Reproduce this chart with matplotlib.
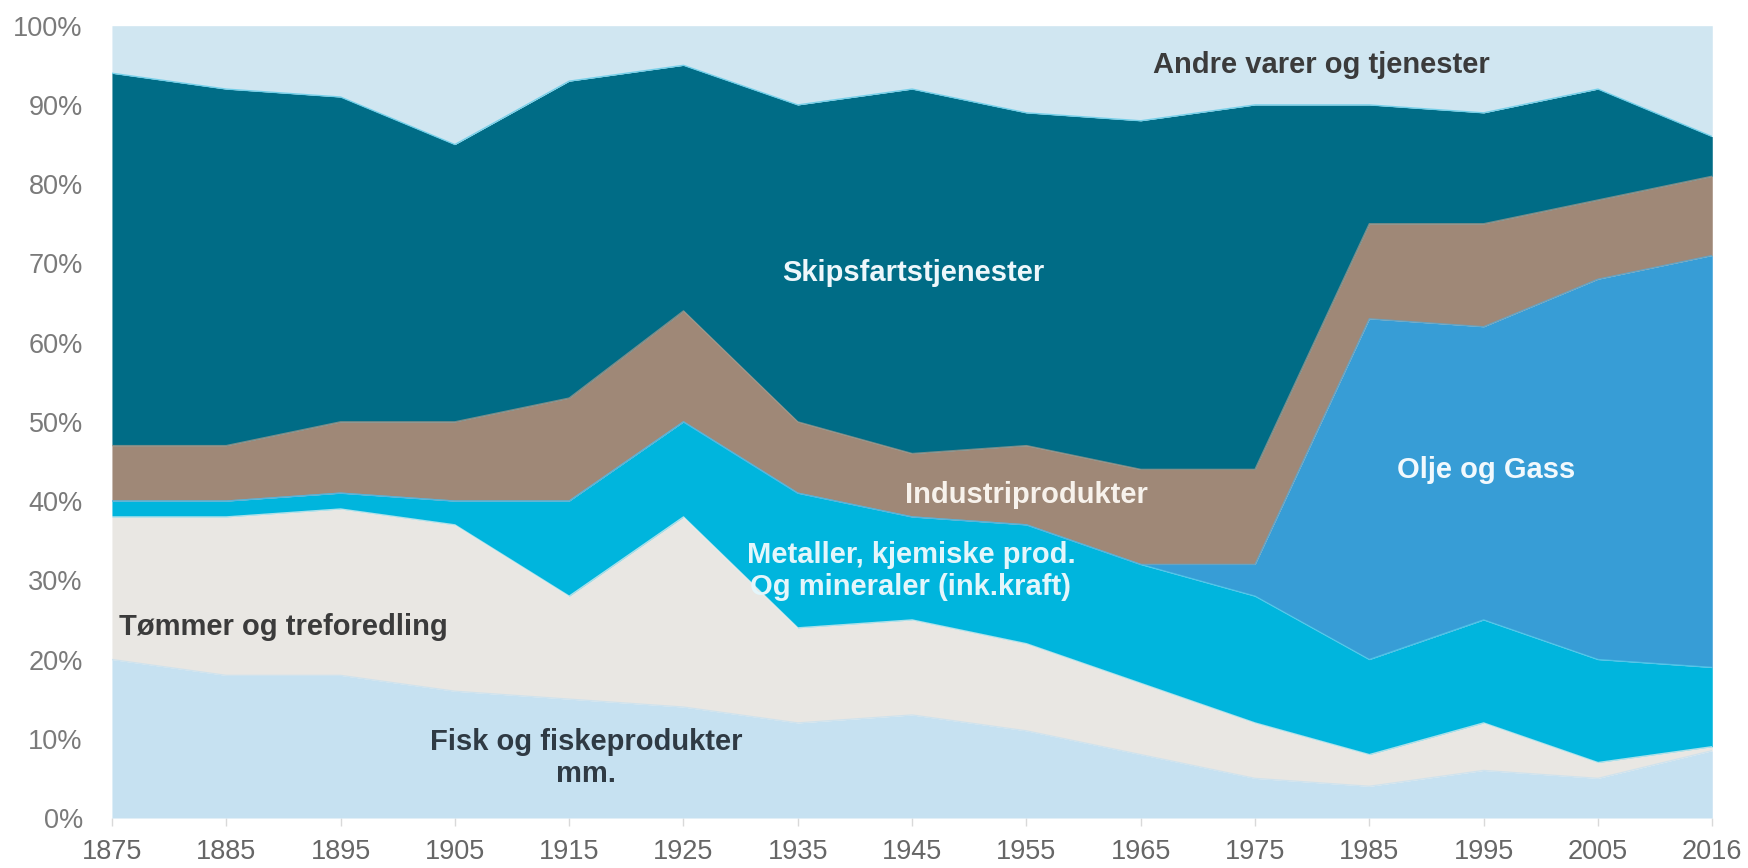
import matplotlib
matplotlib.use("Agg")
import matplotlib.pyplot as plt
import numpy as np

years = ["1875", "1885", "1895", "1905", "1915", "1925", "1935", "1945",
         "1955", "1965", "1975", "1985", "1995", "2005", "2016"]

fisk = [20, 18, 18, 16, 15, 14, 12, 13, 11, 8, 5, 4, 6, 5, 8.5]
tommer = [18, 20, 21, 21, 13, 24, 12, 12, 11, 9, 7, 4, 6, 2, 0.5]
metaller = [2, 2, 2, 3, 12, 12, 17, 13, 15, 15, 16, 12, 13, 13, 10]
olje = [0, 0, 0, 0, 0, 0, 0, 0, 0, 0, 4, 43, 37, 48, 52]
industri = [7, 7, 9, 10, 13, 14, 9, 8, 10, 12, 12, 12, 13, 10, 10]
skipsfart = [47, 45, 41, 35, 40, 31, 40, 46, 42, 44, 46, 15, 14, 14, 5]
andre = [6, 8, 9, 15, 7, 5, 10, 8, 11, 12, 10, 10, 11, 8, 14]

series = [fisk, tommer, metaller, olje, industri, skipsfart, andre]
colors = ["#c6e1f1", "#e9e7e3", "#00b5dd", "#379dd6", "#9f8877", "#006c86", "#d0e6f1"]
edge_colors = ["#c6e1f1", "#f4f2ee", "#55d0ee", "#50aee0", "#b09a88", "#4fc6e6", "#d0e6f1"]

plt.rcParams['font.family'] = ['Liberation Sans', 'DejaVu Sans']

fig = plt.figure(figsize=(17.49, 8.68), dpi=100)
ax = fig.add_axes([0.064, 0.0576, 0.915, 0.9128])

x = np.arange(len(years))
base = np.zeros(len(years))
for vals, c in zip(series, colors):
    top = base + np.array(vals, dtype=float)
    ax.fill_between(x, base, top, color=c, linewidth=0, zorder=2)
    base = top
# thin boundary lines between layers
base = np.zeros(len(years))
for vals, ec in zip(series[:-1], edge_colors[:-1]):
    base = base + np.array(vals, dtype=float)
    ax.plot(x, base, color=ec, linewidth=1.0, zorder=3, alpha=0.7)

ax.set_xlim(0, len(years) - 1)
ax.set_ylim(0, 100)
ax.set_xticks(x)
ax.set_xticklabels(years)
ax.set_yticks(np.arange(0, 101, 10))
ax.set_yticklabels([f"{v}%" for v in range(0, 101, 10)])
for s in ax.spines.values():
    s.set_visible(False)
ax.tick_params(axis='x', length=6, width=1, color="#d9d9d9", colors="#666666",
               labelsize=19.5, pad=9)
ax.tick_params(axis='y', length=0, colors="#7a7a7a", labelsize=19.5, pad=21)
for lab in ax.get_xticklabels():
    lab.set_color("#666666")

dark = "#3b3b3b"
fs = 21
ax.text(10.58, 95.1, "Andre varer og tjenester", ha="center", va="center",
        fontsize=fs, fontweight="bold", color=dark, zorder=5)
ax.text(7.01, 68.8, "Skipsfartstjenester", ha="center", va="center",
        fontsize=fs, fontweight="bold", color="#eef7fb", zorder=5)
ax.text(8.0, 40.8, "Industriprodukter", ha="center", va="center",
        fontsize=fs, fontweight="bold", color="#f7f2ec", zorder=5)
ax.text(12.02, 43.9, "Olje og Gass", ha="center", va="center",
        fontsize=fs, fontweight="bold", color="#f2f9fd", zorder=5)
ax.text(6.99, 31.2, "Metaller, kjemiske prod.\nOg mineraler (ink.kraft)", ha="center",
        va="center", fontsize=fs, fontweight="bold", color="#e4f6fb",
        linespacing=1.2, zorder=5)
ax.text(0.06, 24.1, "Tømmer og treforedling", ha="left", va="center",
        fontsize=fs, fontweight="bold", color=dark, zorder=5)
ax.text(4.15, 7.6, "Fisk og fiskeprodukter\nmm.", ha="center", va="center",
        fontsize=fs, fontweight="bold", color="#2f3a44", linespacing=1.2, zorder=5)

fig.savefig("out.png", dpi=100, facecolor="white")
